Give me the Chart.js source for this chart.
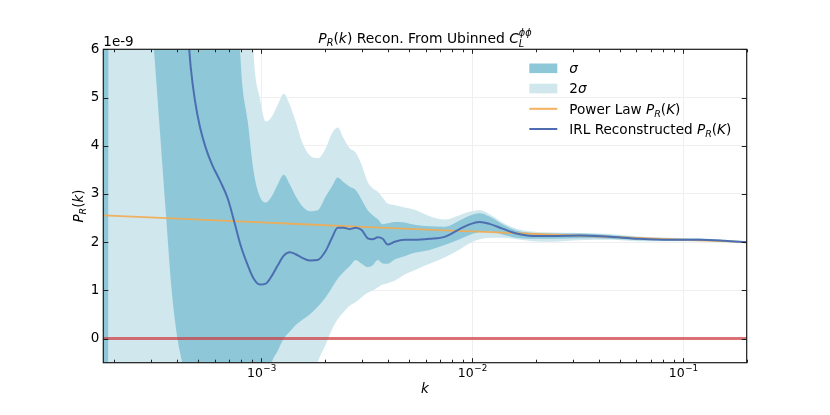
<!DOCTYPE html>
<html><head><meta charset="utf-8">
<script src="https://cdn.jsdelivr.net/npm/chart.js@4/dist/chart.umd.min.js"></script>
<style>html,body{margin:0;padding:0;background:#fff}#wrap{width:830px;height:415px;position:relative}</style>
</head><body><div id="wrap"><canvas id="c"></canvas></div>
<script>
// ---- data (P_R(k) in units of 1e-9) ----
const k = [1.78e-4, 1.873e-4, 1.893e-4, 2.379e-4, 3.093e-4, 3.302e-4, 3.524e-4, 3.764e-4, 4.018e-4, 4.197e-4,
  4.384e-4, 4.630e-4, 4.836e-4, 5.107e-4, 5.452e-4, 5.821e-4, 6.352e-4, 6.932e-4, 7.482e-4, 7.988e-4,
  8.621e-4, 9.204e-4, 9.826e-4, 1.049e-3, 1.120e-3, 1.196e-3, 1.277e-3, 1.363e-3, 1.455e-3, 1.553e-3,
  1.695e-3, 1.850e-3, 2.019e-3, 2.156e-3, 2.301e-3, 2.456e-3, 2.622e-3, 2.800e-3, 2.989e-3, 3.192e-3,
  3.371e-3, 3.559e-3, 3.759e-3, 3.970e-3, 4.282e-3, 4.777e-3, 5.328e-3, 6.274e-3, 7.391e-3, 8.705e-3,
  9.710e-3, 1.083e-2, 1.2075e-2, 1.391e-2, 1.621e-2, 1.930e-2, 2.401e-2, 3.223e-2, 4.469e-2, 6.200e-2,
  8.601e-2, 0.1193, 0.1567, 0.2];
const irl = [9, 9, 9, 9, 8.8, 8.5, 8.2, 7.8, 7.3, 7.0,
  6.8, 5.6, 4.95, 4.4, 3.95, 3.62, 3.28, 2.9, 2.38, 1.92,
  1.52, 1.24, 1.12, 1.14, 1.3, 1.52, 1.72, 1.79, 1.75, 1.68,
  1.62, 1.63, 1.82, 2.08, 2.3, 2.3, 2.27, 2.3, 2.25, 2.08,
  2.06, 2.1, 2.07, 1.95, 2.01, 2.05, 2.05, 2.07, 2.11, 2.27,
  2.37, 2.42, 2.38, 2.28, 2.18, 2.13, 2.13, 2.14, 2.11, 2.07,
  2.05, 2.05, 2.03, 2.0];
const sig1Lo = [-3, -3, 20, 12, 6.0, 4.3, 2.6, 0.95, -0.05, -0.47,
  -1.0, -2, -2, -2, -2, -2, -2, -2, -2, -2,
  -2, -2, -1.8, -1.05, -0.5, -0.25, 0.0, 0.14, 0.28, 0.38,
  0.5, 0.66, 0.86, 1.05, 1.24, 1.38, 1.5, 1.63, 1.55, 1.48,
  1.52, 1.63, 1.56, 1.55, 1.64, 1.71, 1.78, 1.84, 1.94, 2.06,
  2.15, 2.21, 2.22, 2.16, 2.09, 2.07, 2.07, 2.08, 2.07, 2.04,
  2.03, 2.03, 2.02, 1.99];
const sig1Hi = [20, 20, 20, 20, 20, 20, 20, 20, 20, 20,
  20, 20, 20, 20, 20, 20, 20, 20, 9, 5.7,
  4.5, 3.45, 2.95, 2.82, 2.95, 3.2, 3.4, 3.2, 2.95, 2.76,
  2.64, 2.66, 2.95, 3.15, 3.34, 3.24, 3.15, 3.08, 2.88, 2.66,
  2.56, 2.48, 2.37, 2.39, 2.42, 2.41, 2.36, 2.33, 2.32, 2.45,
  2.55, 2.6, 2.53, 2.37, 2.24, 2.19, 2.18, 2.18, 2.15, 2.1,
  2.07, 2.07, 2.04, 2.01];
const sig2Hi = [25, 25, 25, 25, 25, 25, 25, 25, 25, 25,
  25, 25, 25, 25, 25, 25, 25, 25, 25, 25,
  9, 5.85, 5.0, 4.5, 4.6, 4.85, 5.08, 4.85, 4.5, 4.1,
  3.8, 3.74, 3.95, 4.25, 4.38, 4.15, 3.95, 3.86, 3.6, 3.25,
  3.12, 3.05, 2.92, 2.8, 2.77, 2.72, 2.67, 2.54, 2.47, 2.56,
  2.63, 2.66, 2.58, 2.41, 2.28, 2.22, 2.2, 2.19, 2.17, 2.12,
  2.09, 2.08, 2.05, 2.02];
const sig2Lo = [-3, -3, -3, -3, -3, -3, -3, -3, -3, -3,
  -3, -3, -3, -3, -3, -3, -3, -3, -3, -3,
  -3, -3, -3, -3, -3, -3, -3, -3, -3, -3,
  -1.2, -0.5, -0.12, 0.18, 0.4, 0.55, 0.68, 0.76, 0.86, 0.95,
  1.0, 1.06, 1.12, 1.15, 1.2, 1.33, 1.42, 1.55, 1.68, 1.85,
  1.98, 2.06, 2.09, 2.09, 2.06, 2.02, 2.01, 2.04, 2.05, 2.02,
  2.02, 2.02, 2.01, 1.98];
const powerK = [1.78e-4, 1e-3, 3e-3, 1e-2, 3e-2, 1e-1, 0.2];
const powerVal = [2.557, 2.41, 2.317, 2.222, 2.138, 2.05, 2.0];
const zeroK = [1.78e-4, 0.2];
const zeroVal = [0, 0];
const xTickExp = [-3, -2, -1];
const yTicks = [0, 1, 2, 3, 4, 5, 6];

// ---- styling ----
const FAM = '"DejaVu Sans", sans-serif';
const DARK = 'rgb(142,200,216)';
const LIGHT = 'rgb(208,231,238)';
const ORANGE = 'rgba(242,170,80,0.9)';
const BLUE = 'rgb(76,110,176)';
const RED = 'rgba(205,55,60,0.7)';
const GRID = '#efefef';

function pts(xs, ys) { return xs.map((x, i) => ({ x: x, y: ys[i] })); }
function fnt(it, s) { return (it ? 'italic ' : '') + s + 'px ' + FAM; }

function layoutRich(ctx, parts, size) {
  let w = 0; const items = [];
  for (const p of parts) {
    if (p.sub !== undefined && p.sup !== undefined) {
      const s = size * 0.7, f = fnt(true, s);
      ctx.font = f;
      const w1 = ctx.measureText(p.sub).width, w2 = ctx.measureText(p.sup).width;
      items.push({ x: w, t: p.sub, f: f, dy: size * 0.28 });
      items.push({ x: w, t: p.sup, f: f, dy: -size * 0.45 });
      w += Math.max(w1, w2);
    } else {
      const s = p.pos ? size * 0.7 : size, f = fnt(p.it, s);
      ctx.font = f;
      const tw = ctx.measureText(p.t).width;
      items.push({ x: w, t: p.t, f: f, dy: p.pos === 'sub' ? size * 0.22 : p.pos === 'sup' ? -size * 0.42 : 0 });
      w += tw;
    }
  }
  return { w: w, items: items };
}
function drawRich(ctx, parts, x, y, size, align) {
  const L = layoutRich(ctx, parts, size);
  const x0 = align === 'center' ? x - L.w / 2 : align === 'right' ? x - L.w : x;
  ctx.fillStyle = '#000'; ctx.textAlign = 'left'; ctx.textBaseline = 'alphabetic';
  for (const it of L.items) { ctx.font = it.f; ctx.fillText(it.t, x0 + it.x, y + it.dy); }
}

const PR = [{ t: 'P', it: true }, { t: 'R', it: true, pos: 'sub' }];
const deco = {
  id: 'deco',
  afterDraw(chart) {
    const ctx = chart.ctx, a = chart.chartArea, xs = chart.scales.x, ys = chart.scales.y;
    ctx.save();
    // ticks (inward)
    ctx.strokeStyle = '#222'; ctx.lineWidth = 1;
    ctx.beginPath();
    for (let e = -4; e <= -1; e++) {
      for (let m = 1; m <= 9; m++) {
        const v = m * Math.pow(10, e);
        if (v < xs.min || v > xs.max) continue;
        const px = Math.round(xs.getPixelForValue(v)) + 0.5;
        const len = m === 1 ? 4.5 : 3;
        ctx.moveTo(px, a.bottom); ctx.lineTo(px, a.bottom - len);
        ctx.moveTo(px, a.top); ctx.lineTo(px, a.top + len);
      }
    }
    for (const v of yTicks) {
      const py = Math.round(ys.getPixelForValue(v)) + 0.5;
      ctx.moveTo(a.left, py); ctx.lineTo(a.left + 5, py);
      ctx.moveTo(a.right, py); ctx.lineTo(a.right - 5, py);
    }
    ctx.stroke();
    // frame
    ctx.lineWidth = 1.2; ctx.strokeStyle = '#1a1a1a';
    ctx.strokeRect(a.left, a.top, a.right - a.left, a.bottom - a.top);
    // x tick labels 10^n
    ctx.fillStyle = '#000'; ctx.textBaseline = 'alphabetic'; ctx.textAlign = 'left';
    for (const e of xTickExp) {
      const px = xs.getPixelForValue(Math.pow(10, e));
      const base = '10', sup = '\u2212' + String(-e);
      ctx.font = fnt(false, 12.5); const w1 = ctx.measureText(base).width;
      ctx.font = fnt(false, 8.8); const w2 = ctx.measureText(sup).width;
      const x0 = px - (w1 + w2) / 2;
      ctx.font = fnt(false, 12.5); ctx.fillText(base, x0, a.bottom + 14);
      ctx.font = fnt(false, 8.8); ctx.fillText(sup, x0 + w1 + 0.5, a.bottom + 8.5);
    }
    // x label
    drawRich(ctx, [{ t: 'k', it: true }], (a.left + a.right) / 2, a.bottom + 30.5, 13.5, 'center');
    // y label (rotated)
    ctx.save();
    ctx.translate(83, (a.top + a.bottom) / 2);
    ctx.rotate(-Math.PI / 2);
    drawRich(ctx, PR.concat([{ t: '(' }, { t: 'k', it: true }, { t: ')' }]), 0, 0, 13.5, 'center');
    ctx.restore();
    // offset text
    ctx.font = fnt(false, 13.5); ctx.fillStyle = '#000'; ctx.textAlign = 'left';
    ctx.fillText('1e-9', a.left, a.top - 3);
    // title
    drawRich(ctx, PR.concat([{ t: '(' }, { t: 'k', it: true }, { t: ') Recon. From Ubinned ' }, { t: 'C', it: true }, { sub: 'L', sup: '\u03d5\u03d5' }]),
      (a.left + a.right) / 2, 42.7, 13.9, 'center');
    // legend
    const lx = 529.3, lw = 28, tx = 569.3, rows = [68.3, 88.5, 108.8, 129];
    ctx.fillStyle = DARK; ctx.fillRect(lx, rows[0] - 4.8, lw, 9.6);
    ctx.fillStyle = LIGHT; ctx.fillRect(lx, rows[1] - 4.8, lw, 9.6);
    ctx.lineWidth = 2;
    ctx.strokeStyle = ORANGE; ctx.beginPath(); ctx.moveTo(lx, rows[2]); ctx.lineTo(lx + lw, rows[2]); ctx.stroke();
    ctx.strokeStyle = BLUE; ctx.beginPath(); ctx.moveTo(lx, rows[3]); ctx.lineTo(lx + lw, rows[3]); ctx.stroke();
    const bo = 4.9;
    drawRich(ctx, [{ t: '\u03c3', it: true }], tx, rows[0] + bo, 13.6, 'left');
    drawRich(ctx, [{ t: '2' }, { t: '\u03c3', it: true }], tx, rows[1] + bo, 13.6, 'left');
    drawRich(ctx, [{ t: 'Power Law ' }].concat(PR, [{ t: '(' }, { t: 'K', it: true }, { t: ')' }]), tx, rows[2] + bo, 13.6, 'left');
    drawRich(ctx, [{ t: 'IRL Reconstructed ' }].concat(PR, [{ t: '(' }, { t: 'K', it: true }, { t: ')' }]), tx, rows[3] + bo, 13.6, 'left');
    ctx.restore();
  }
};

const bandLine = { borderWidth: 0, borderColor: 'transparent', pointRadius: 0, cubicInterpolationMode: 'monotone' };
new Chart(document.getElementById('c'), {
  type: 'line',
  data: {
    datasets: [
      Object.assign({ label: '2\u03c3 lower', data: pts(k, sig2Lo), fill: false, order: 7 }, bandLine),
      Object.assign({ label: '2\u03c3', data: pts(k, sig2Hi), fill: '-1', backgroundColor: LIGHT, order: 6 }, bandLine),
      Object.assign({ label: '\u03c3 lower', data: pts(k, sig1Lo), fill: false, order: 5 }, bandLine),
      Object.assign({ label: '\u03c3', data: pts(k, sig1Hi), fill: '-1', backgroundColor: DARK, order: 4 }, bandLine),
      { label: 'Power Law P_R(K)', data: pts(powerK, powerVal), borderColor: ORANGE, borderWidth: 1.8, pointRadius: 0, fill: false, cubicInterpolationMode: 'monotone', order: 3 },
      { label: 'IRL Reconstructed P_R(K)', data: pts(k, irl), borderColor: BLUE, borderWidth: 2, pointRadius: 0, fill: false, cubicInterpolationMode: 'monotone', order: 2 },
      { label: 'zero', data: pts(zeroK, zeroVal), borderColor: RED, borderWidth: 3, pointRadius: 0, fill: false, order: 1 }
    ]
  },
  options: {
    responsive: true, maintainAspectRatio: false, animation: false,
    layout: { padding: { top: 49.3, right: 83.3, left: 0, bottom: 0 } },
    plugins: { legend: { display: false }, title: { display: false }, tooltip: { enabled: false } },
    scales: {
      x: {
        type: 'logarithmic', min: 1.78e-4, max: 0.2,
        afterBuildTicks: s => { s.ticks = xTickExp.map(e => ({ value: Math.pow(10, e) })); },
        afterFit: s => { s.height = 52.3; },
        ticks: { display: false },
        grid: { color: GRID, lineWidth: 1, drawTicks: false },
        border: { display: false }
      },
      y: {
        type: 'linear', min: -0.5, max: 6,
        afterBuildTicks: s => { s.ticks = yTicks.map(v => ({ value: v })); },
        afterFit: s => { s.width = 103.3; },
        ticks: { font: { family: 'DejaVu Sans', size: 13.5 }, color: '#000', padding: 4, callback: v => String(v) },
        grid: { color: GRID, lineWidth: 1, drawTicks: false },
        border: { display: false }
      }
    }
  },
  plugins: [deco]
});
</script></body></html>
